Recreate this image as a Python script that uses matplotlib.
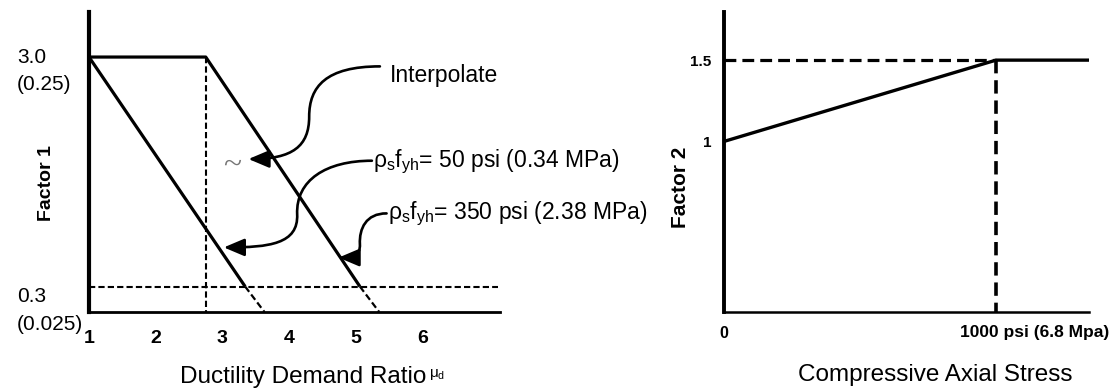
import matplotlib
matplotlib.use("Agg")
import matplotlib.pyplot as plt
from matplotlib.patches import FancyArrowPatch
from matplotlib.path import Path
from matplotlib.transforms import blended_transform_factory as btf

plt.rcParams['font.family'] = ['Liberation Sans', 'DejaVu Sans']
plt.rcParams['mathtext.fontset'] = 'custom'
plt.rcParams['mathtext.rm'] = 'Liberation Sans'
plt.rcParams['mathtext.it'] = 'Liberation Sans'
plt.rcParams['mathtext.bf'] = 'Liberation Sans:bold'

# ---------------- data ----------------
# Left: Factor 1 vs ductility demand ratio
mu_ticks = [1, 2, 3, 4, 5, 6]
mu_low = [1.0, 3.34]          # rho_s f_yh = 50 psi line (solid part)
f1_low = [3.0, 0.3]
mu_low_ext = [3.34, 3.63]     # dashed extension
f1_low_ext = [0.3, 0.0]
mu_high = [1.0, 2.75, 5.06]   # rho_s f_yh = 350 psi line
f1_high = [3.0, 3.0, 0.3]
mu_high_ext = [5.06, 5.35]
f1_high_ext = [0.3, 0.0]
mu_knee = 2.75
f1_max, f1_min = 3.0, 0.3
f1_labels = ["3.0\n(0.25)", "0.3\n(0.025)"]

# Right: Factor 2 vs compressive axial stress
stress = [0, 1000, 1342]
f2 = [1.0, 1.5, 1.5]
f2_ticks = [1.0, 1.5]
f2_ticklabels = ["1", "1.5"]
stress_break = 1000
stress_labels = ["0", "1000 psi (6.8 Mpa)"]

# ---------------- figure ----------------
W, H = 1114, 390
fig = plt.figure(figsize=(W / 100, H / 100), dpi=100)

axL = fig.add_axes([89 / W, 1 - 312 / H, 411 / W, 300 / H])
axR = fig.add_axes([724 / W, 1 - 312 / H, 365 / W, 300 / H])

for ax in (axL, axR):
    ax.spines['top'].set_visible(False)
    ax.spines['right'].set_visible(False)
    ax.patch.set_alpha(0)

# ---- left ----
axL.set_xlim(1, 7.16)
axL.set_ylim(0, 3.53)
axL.spines['left'].set_linewidth(3.0)
axL.spines['bottom'].set_linewidth(2.0)
lw = 2.3
dash = (0, (3, 1.5))
axL.plot(mu_low, f1_low, color='black', lw=lw, solid_capstyle='butt')
axL.plot(mu_high, f1_high, color='black', lw=lw, solid_capstyle='butt')
axL.plot(mu_low_ext, f1_low_ext, color='black', lw=1.6, ls=dash)
axL.plot(mu_high_ext, f1_high_ext, color='black', lw=1.6, ls=dash)
axL.plot([mu_knee, mu_knee], [f1_max, 0], color='black', lw=1.5, ls=dash)
axL.plot([1, 7.13], [f1_min, f1_min], color='black', lw=1.5, ls=dash)

axL.set_xticks(mu_ticks)
axL.set_xticklabels([str(t) for t in mu_ticks], fontsize=14, fontweight='bold')
axL.set_yticks([])
axL.tick_params(axis='x', length=0, pad=13)

trL = btf(axL.transAxes, axL.transData)
xlab = (17 - 89) / 411
axL.text(xlab, f1_max + 0.11, f1_labels[0], transform=trL, ha='left', va='top',
         fontsize=15, linespacing=1.55)
axL.text(xlab, f1_min - 0.01, f1_labels[1], transform=trL, ha='left', va='top',
         fontsize=15, linespacing=1.55)

fig.text(46 / W, 1 - 183 / H, "Factor 1", rotation=90, ha='center', va='center',
         fontsize=14, fontweight='bold')
fig.text(303 / W, 1 - 377 / H, "Ductility Demand Ratio", ha='center', va='center',
         fontsize=17.5)
fig.text(429 / W, 1 - 374 / H, r"$\mu_\mathrm{d}$", ha='left', va='center', fontsize=11)

# annotations with curved arrows
def curved_arrow(ax, verts):
    codes = [Path.MOVETO] + [Path.CURVE4] * (len(verts) - 1)
    p = Path(verts, codes)
    arr = FancyArrowPatch(path=p, arrowstyle='-|>,head_length=0.9,head_width=0.38',
                          mutation_scale=14, lw=1.9, color='black',
                          transform=ax.transData, clip_on=False)
    ax.add_patch(arr)

curved_arrow(axL, [(5.36, 2.89), (4.55, 2.89), (4.30, 2.65), (4.30, 2.30),
                   (4.30, 1.95), (4.05, 1.80), (3.39, 1.80)])
curved_arrow(axL, [(5.24, 1.78), (4.55, 1.78), (4.10, 1.55), (4.12, 1.15),
                   (4.14, 0.80), (3.70, 0.76), (3.02, 0.76)])
curved_arrow(axL, [(5.46, 1.16), (5.15, 1.16), (5.05, 0.98), (5.06, 0.80),
                   (5.07, 0.66), (4.95, 0.64), (4.74, 0.64)])

axL.text(3.14, 1.72, "~", fontsize=24, ha='center', va='center', color='#777777',
         family='Liberation Serif')
axL.text(5.51, 2.78, "Interpolate", fontsize=16.5, ha='left', va='center')
axL.text(5.25, 1.77, r"$\rho_\mathrm{s}\mathrm{f}_\mathrm{yh}$= 50 psi (0.34 MPa)",
         fontsize=16.5, ha='left', va='center', clip_on=False)
axL.text(5.48, 1.15, r"$\rho_\mathrm{s}\mathrm{f}_\mathrm{yh}$= 350 psi (2.38 MPa)",
         fontsize=16.5, ha='left', va='center', clip_on=False)

# ---- right ----
axR.set_xlim(0, 1342)
axR.set_ylim(-0.049, 1.796)
axR.spines['left'].set_linewidth(2.8)
axR.spines['bottom'].set_linewidth(1.8)
axR.plot(stress, f2, color='black', lw=2.4, solid_capstyle='butt')
rdash = (0, (3.7, 1.9))
axR.plot([0, stress_break], [1.5, 1.5], color='black', lw=2.3, ls=rdash)
axR.plot([stress_break, stress_break], [1.5, -0.049], color='black', lw=2.6, ls=rdash)

axR.set_xticks([])
axR.set_yticks(f2_ticks)
axR.set_yticklabels(f2_ticklabels, fontsize=11, fontweight='bold')
axR.tick_params(axis='y', length=0, pad=9)

trR = btf(axR.transData, axR.transAxes)
axR.text(0, (312 - 333) / 300, stress_labels[0], transform=trR, ha='center',
         va='center', fontsize=11.5, fontweight='bold')
axR.text(stress_break - 132, (312 - 333) / 300, stress_labels[1], transform=trR,
         ha='left', va='center', fontsize=12.5, fontweight='bold')

fig.text(680 / W, 1 - 187 / H, "Factor 2", rotation=90, ha='center', va='center',
         fontsize=15, fontweight='bold')
fig.text(935 / W, 1 - 375 / H, "Compressive Axial Stress", ha='center', va='center',
         fontsize=17.5)

fig.savefig("out.png", dpi=100)
